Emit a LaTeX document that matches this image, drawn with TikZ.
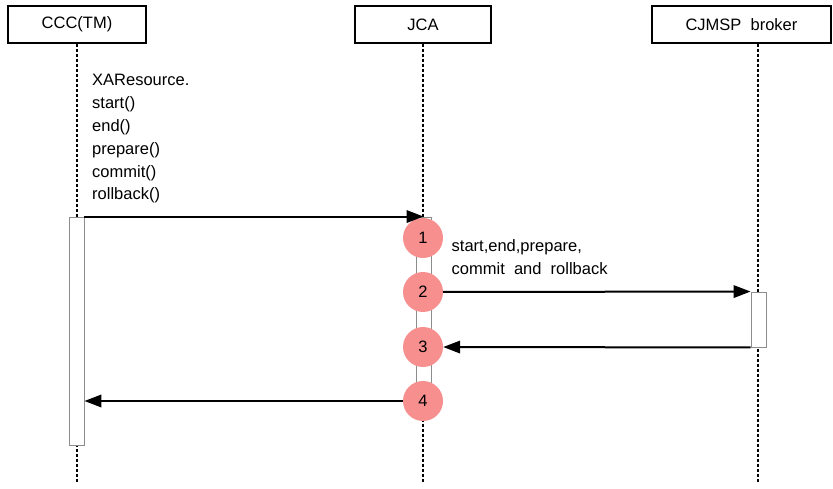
\documentclass[tikz,border=0pt]{standalone}
\usepackage{fontspec}
\setmainfont{Liberation Sans}
\usetikzlibrary{arrows.meta, positioning}
\definecolor{stepred}{HTML}{F78F8F}

\begin{document}
\begin{tikzpicture}[
    x=1pt, y=-1pt,
    actor/.style={rectangle, draw, line width=1.3pt, minimum height=37pt, inner sep=0pt, font=\fontsize{16.5}{18}\selectfont},
    lifeline/.style={densely dashed, line width=1.5pt},
    activation/.style={rectangle, draw=black!45, fill=white, line width=0.9pt, minimum width=15pt, inner sep=0pt},
    stepnode/.style={circle, fill=stepred, minimum size=40pt, inner sep=0pt, font=\fontsize{16.5}{18}\selectfont},
    label/.style={align=left, inner sep=0pt, font=\fontsize{16.5}{22.8}\selectfont},
    msg/.style={-{Triangle[length=17pt, width=12.5pt]}, line width=2pt},
]
\useasboundingbox (0,0) rectangle (833,489);

\node[actor, minimum width=138pt] (ccc) at (77,24.5)    {CCC(TM)};
\node[actor, minimum width=136pt] (jca) at (423,24.5)   {JCA};
\node[actor, minimum width=179pt] (brk) at (741.5,24.5) {CJMSP\ \ broker};

\coordinate (cccEnd) at (77,483);
\coordinate (jcaEnd) at (423,483);
\coordinate (brkEnd) at (758,483);

\draw[lifeline] (ccc.south -| cccEnd) -- (cccEnd);
\draw[lifeline] (jca.south -| jcaEnd) -- (jcaEnd);
\draw[lifeline] (brk.south -| brkEnd) -- (brkEnd);

\node[activation, minimum height=228pt] (cccAct) at (76.5,331) {};
\node[activation, minimum height=183pt] (jcaAct) at (423.5,308.5) {};
\node[activation, minimum height=55pt]  (brkAct) at (758.5,319.5) {};

\node[stepnode] (c1) at (423,238) {1};
\node[stepnode] (c2) at (423,292) {2};
\node[stepnode] (c3) at (423,347) {3};
\node[stepnode] (c4) at (423,401) {4};

\node[label, anchor=north west] (calls) at (92,74.3) {XAResource.\\start()\\end()\\prepare()\\commit()\\rollback()};
\node[label, anchor=north west] (ops) at (451.5,239.5) {start,end,prepare,\\commit\ \ and\ \ rollback};

\draw[msg] (cccAct.north east) -- (jcaAct.north);
\draw[msg] (c2) -- (brkAct.north west);
\draw[msg] (brkAct.south west) -- (c3);
\draw[msg] (c4) -- (cccAct.east |- c4);

\end{tikzpicture}
\end{document}
